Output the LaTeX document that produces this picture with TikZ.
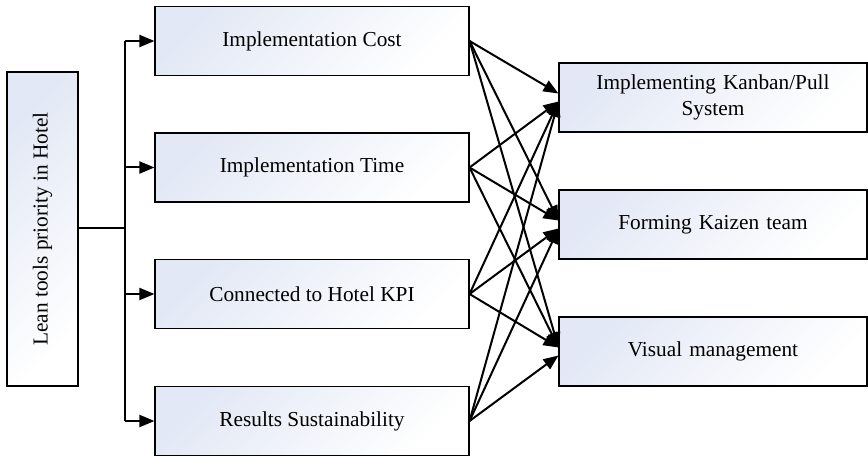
\documentclass[tikz,border=0pt]{standalone}
\usepackage{fontspec}
\setmainfont{Liberation Serif}
\usetikzlibrary{arrows.meta}
\definecolor{boxblue}{RGB}{226,232,245}
\begin{document}
\begin{tikzpicture}[x=1pt,y=-1pt,
  box/.style={draw=black, line width=1.1pt, top color=boxblue, bottom color=white, shading angle=45,
    inner sep=0pt, font=\fontsize{21.3}{25.5}\selectfont, align=center},
  midbox/.style={box, minimum width=314pt, minimum height=69pt},
  rbox/.style={box, minimum width=308pt, minimum height=69pt, text width=290pt},
  conn/.style={line width=2pt, -{Triangle[length=15pt,width=12pt]}},
  trunk/.style={line width=2pt}]
\useasboundingbox (0,0) rectangle (868,457);
\node[box, rotate=90, minimum width=314pt, minimum height=71pt] (lean) at (42.5,229) {Lean tools priority in Hotel};
\node[midbox] (m1) at (312,41) {Implementation Cost};
\node[midbox] (m2) at (312,167.5) {Implementation Time};
\node[midbox] (m3) at (312,294) {Connected to Hotel KPI};
\node[midbox] (m4) at (312,421) {Results Sustainability};
\node[rbox] (r1) at (713,97.5) {Implementing Kanban/Pull\\System};
\node[rbox] (r2) at (713,224.5) {Forming Kaizen team};
\node[rbox] (r3) at (713,351.5) {Visual management};
\coordinate (j) at (125,228);
\coordinate (jt) at (125,41);
\coordinate (jb) at (125,421);
\draw[trunk] (lean.south |- j) -- (j);
\draw[trunk] (jt) -- (jb);
\foreach \m in {m1,m2,m3,m4}{
  \draw[conn] (jt |- \m.west) -- (\m.west);
}
% connectors middle -> right
\foreach \m/\r/\o in {m1/r1/-4, m1/r2/-4, m1/r3/-4,
                     m2/r1/4, m2/r2/-4, m2/r3/-4,
                     m3/r1/4, m3/r2/4, m3/r3/-4,
                     m4/r1/4, m4/r2/4, m4/r3/4}{
  \draw[conn] (\m.east) -- ([yshift=-\o pt]\r.west);
}
\end{tikzpicture}
\end{document}
